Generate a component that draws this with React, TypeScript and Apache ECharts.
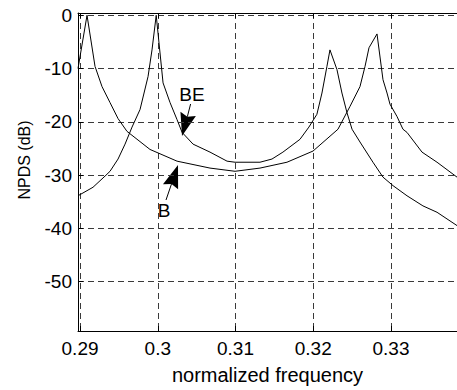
import React, { useEffect, useRef } from "react";
import * as echarts from "echarts";

const xTicks = [0.29, 0.3, 0.31, 0.32, 0.33];
const yTicks = [0, -10, -20, -30, -40, -50];

const freqB = [0.28974, 0.2909, 0.29193, 0.29283, 0.29386, 0.29489, 0.29604, 0.299, 0.30248, 0.30672, 0.30994, 0.31315, 0.31662, 0.31997, 0.32318, 0.32473, 0.32601, 0.32666, 0.32717, 0.3282, 0.32897, 0.32949, 0.32987, 0.33077, 0.33154, 0.33206, 0.33399, 0.33592, 0.33849];
const npdsB = [-10, 0, -9.6, -13.4, -16.4, -19.4, -21.8, -25.2, -27.4, -28.7, -29.3, -28.7, -27.6, -25.5, -21.4, -17.1, -13.4, -9.6, -6.1, -3.5, -12.1, -14.6, -16.7, -19, -21.4, -22, -25.7, -27.6, -30.4];

const freqBE = [0.28974, 0.29167, 0.29322, 0.29386, 0.29489, 0.29579, 0.29669, 0.29772, 0.29875, 0.29926, 0.2998, 0.30068, 0.30158, 0.30248, 0.30313, 0.30454, 0.30672, 0.30891, 0.30994, 0.31315, 0.31469, 0.3161, 0.31829, 0.31944, 0.32047, 0.32112, 0.32176, 0.32215, 0.32305, 0.32369, 0.32434, 0.32499, 0.32601, 0.32768, 0.32897, 0.33026, 0.33206, 0.33411, 0.33592, 0.33849];
const npdsBE = [-33.9, -32.3, -30.2, -29.3, -27, -24.2, -21, -17.7, -11.5, -6.5, 0, -12.7, -16.4, -19.6, -22, -24.2, -25.7, -27.4, -27.6, -27.6, -27, -25.7, -23.3, -21, -18.6, -14.6, -9.6, -6.5, -10.2, -14.6, -18.3, -21.4, -23.8, -27.6, -30.4, -32, -33.9, -35.8, -37, -39.5];

const FONT = "'Liberation Sans', Arial, Helvetica, sans-serif";

function arrowHead(tx: number, ty: number, dx: number, dy: number, len: number, half: number, back: number) {
  const n = Math.hypot(dx, dy);
  const ux = dx / n, uy = dy / n;
  const px = -uy, py = ux;
  const cx = tx - ux * len, cy = ty - uy * len;
  const bx = cx - ux * back, by = cy - uy * back;
  return {
    points: [[tx, ty], [bx + px * half, by + py * half], [cx, cy], [bx - px * half, by - py * half]],
    base: [cx, cy],
  };
}

export default function App() {
  const ref = useRef<HTMLDivElement>(null);
  useEffect(() => {
    if (!ref.current) return;
    const chart = echarts.init(ref.current, null, { renderer: "svg" });
    const grid = { left: 78, right: 0, top: 13, bottom: 57 };
    const dash = { color: "#3a3a3a", width: 1, type: [6, 4] as number[] };

    const be = arrowHead(182, 136, -5, 18, 20, 8, 3);
    const b = arrowHead(178, 165, 12, -35, 20, 8, 3);

    chart.setOption({
      animation: false,
      backgroundColor: "#fff",
      grid,
      xAxis: [
        {
          type: "value",
          min: 0.28974,
          max: 0.33849,
          position: "bottom",
          axisLine: { show: true, onZero: false, lineStyle: { color: "#000", width: 1 } },
          axisTick: { show: true, inside: true, length: 5, customValues: xTicks, lineStyle: { color: "#000" } },
          axisLabel: {
            customValues: xTicks,
            formatter: (v: number) => String(+v.toFixed(2)),
            color: "#000",
            fontSize: 19,
            fontFamily: FONT,
            margin: 8,
          },
          splitLine: { show: true, lineStyle: dash },
          name: "normalized frequency",
          nameLocation: "middle",
          nameGap: 34,
          nameTextStyle: { color: "#000", fontSize: 20, fontFamily: FONT },
        },
        {
          type: "value",
          min: 0.28974,
          max: 0.33849,
          position: "top",
          axisLine: { show: true, onZero: false, lineStyle: { color: "#000", width: 1 } },
          axisTick: { show: true, inside: true, length: 5, customValues: xTicks, lineStyle: { color: "#000" } },
          axisLabel: { show: false },
          splitLine: { show: false },
        },
      ],
      yAxis: {
        type: "value",
        min: -59.3,
        max: 0.43,
        axisLine: { show: true, onZero: false, lineStyle: { color: "#000", width: 1 } },
        axisTick: { show: true, inside: true, length: 5, customValues: yTicks, lineStyle: { color: "#000" } },
        axisLabel: {
          customValues: yTicks,
          color: "#000",
          fontSize: 19,
          fontFamily: FONT,
          margin: 6,
        },
        splitLine: { show: true, lineStyle: dash },
      },
      series: [
        {
          name: "B",
          type: "line",
          xAxisIndex: 0,
          data: freqB.map((f, i) => [f, npdsB[i]]),
          symbol: "none",
          lineStyle: { color: "#000", width: 1 },
          clip: true,
        },
        {
          name: "BE",
          type: "line",
          xAxisIndex: 0,
          data: freqBE.map((f, i) => [f, npdsBE[i]]),
          symbol: "none",
          lineStyle: { color: "#000", width: 1 },
          clip: true,
        },
      ],
      graphic: [
        {
          type: "text",
          x: 24,
          y: 160,
          rotation: Math.PI / 2,
          style: { text: "NPDS (dB)", fill: "#000", fontSize: 16, fontFamily: FONT, textAlign: "center", textVerticalAlign: "middle" },
        },
        {
          type: "text",
          x: 192,
          y: 94,
          style: { text: "BE", fill: "#000", fontSize: 19, fontFamily: FONT, textAlign: "center", textVerticalAlign: "middle" },
        },
        {
          type: "line",
          shape: { x1: 190.6, y1: 104, x2: be.base[0], y2: be.base[1] },
          style: { stroke: "#000", lineWidth: 1 },
        },
        { type: "polygon", shape: { points: be.points }, style: { fill: "#000" } },
        {
          type: "text",
          x: 164,
          y: 210,
          style: { text: "B", fill: "#000", fontSize: 19, fontFamily: FONT, textAlign: "center", textVerticalAlign: "middle" },
        },
        {
          type: "line",
          shape: { x1: 166, y1: 200, x2: b.base[0], y2: b.base[1] },
          style: { stroke: "#000", lineWidth: 1 },
        },
        { type: "polygon", shape: { points: b.points }, style: { fill: "#000" } },
      ],
    });
    return () => chart.dispose();
  }, []);
  return <div ref={ref} style={{ position: "absolute", left: 0, top: 0, width: 457, height: 390 }} />;
}
